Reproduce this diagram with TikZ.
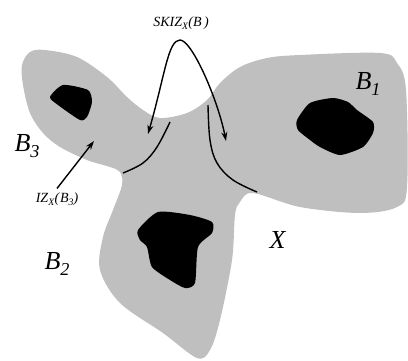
\documentclass[tikz,border=0pt]{standalone}
\usepackage{fontspec}
\setmainfont{Liberation Serif}[ItalicFont={Liberation Serif Italic}]
\usetikzlibrary{arrows.meta,positioning}

\newcommand{\setlbl}[2]{\textit{#1}\raisebox{-0.45ex}{\scalebox{0.7}{\textit{#2}}}}

\begin{document}
\begin{tikzpicture}[
    x=1pt, y=-1pt,
    region/.style={fill=black!25, draw=none},
    grain/.style={fill=black, draw=none},
    zone/.style={draw, line width=1.4pt},
    arrow/.style={-{Stealth[length=9pt,width=6pt]}, line width=1.4pt},
    biglabel/.style={font=\fontsize{26}{28}\selectfont, inner sep=0pt},
    label/.style={font=\fontsize{14}{16}\selectfont, inner sep=1pt}
]
\useasboundingbox (0,0) rectangle (408,360);

% The set X
\fill[region] plot[smooth cycle, tension=0.55] coordinates {
    (30,52) (45,50) (77,57) (107,77) (127,97) (143,110) (160,118)
    (187,113) (207,100) (220,83) (240,67) (267,58) (300,55) (380,53)
    (397,63) (406,90) (407,187) (397,207) (360,213) (300,207) (253,193)
    (240,202) (235,215) (232,260) (220,320) (210,350) (197,358)
    (163,333) (120,303) (100,270) (103,237) (113,210) (122,185)
    (120,172) (110,167) (87,160) (60,147) (43,133) (30,113) (23,85) (22,65)};

% The markers B_1, B_2, B_3
\fill[grain] plot[smooth cycle, tension=0.4] coordinates {
    (297,120) (310,103) (333,98) (348,102) (357,110) (373,122) (373,133)
    (363,147) (340,155) (320,147) (310,140) (298,130)};
\fill[grain] plot[smooth cycle, tension=0.4] coordinates {
    (138,230) (158,212) (190,215) (212,222) (212,233) (198,247) (195,283)
    (185,288) (170,280) (152,267) (147,247) (140,240)};
\fill[grain] plot[smooth cycle, tension=0.4] coordinates {
    (50,97) (63,85) (88,90) (92,102) (87,117) (80,120) (58,105)};

% Zone boundaries
\draw[zone] plot[smooth, tension=0.6] coordinates {
    (123,173) (143,163) (157,147) (170,122)};
\draw[zone] plot[smooth, tension=0.6] coordinates {
    (208,105) (210,140) (217,163) (233,180) (257,192)};

% Labels
\node[biglabel] (b1) at (368,84) {\setlbl{B}{1}};
\node[biglabel] (b2) at (57,264) {\setlbl{B}{2}};
\node[biglabel] (b3) at (27,146) {\setlbl{B}{3}};
\node[biglabel] (x) at (278,240) {\textit{X}};
\node[label] (skiz) at (181,23) {\setlbl{SKIZ}{X}\textit{(B\,)}};
\node[label] (iz) at (57,199) {\setlbl{IZ}{X}\textit{(}\setlbl{B}{3}\textit{)}};

% Arrows
\coordinate (apex) at (180,40);
\coordinate (skizl) at (148,134);
\coordinate (skizr) at (226,141);
\coordinate (iztip) at (94,141);
\draw[arrow] (apex) .. controls (168,40) and (165,75) .. (skizl);
\draw[arrow] (apex) .. controls (192,40) and (218,100) .. (skizr);
\draw[arrow] (iz.north) ++(0,-3) -- (iztip);

\end{tikzpicture}
\end{document}
